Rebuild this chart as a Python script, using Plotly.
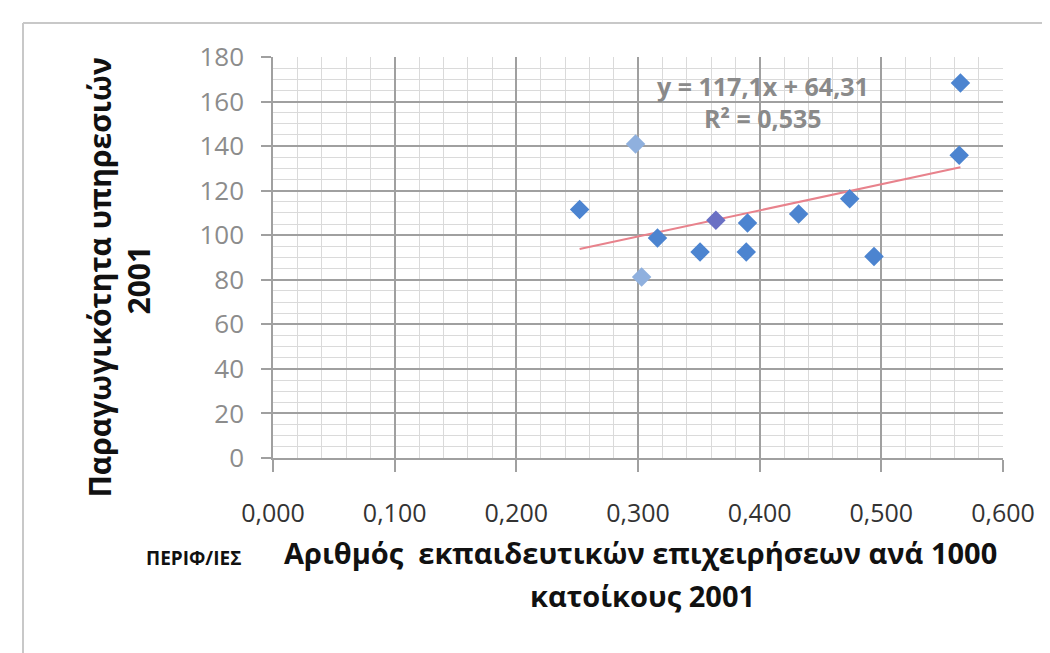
import numpy as np
import plotly.graph_objects as go

# Data
x_vals = [0.252, 0.298, 0.303, 0.316, 0.351, 0.364, 0.390, 0.389, 0.432, 0.474, 0.494, 0.564, 0.565]
y_vals = [111.5, 141.0, 81.3, 98.8, 92.5, 106.7, 105.5, 92.5, 109.5, 116.4, 90.5, 135.9, 168.3]
trend_slope = 117.1
trend_intercept = 64.31
r_squared = "0,535"
x_ticks = [0.0, 0.1, 0.2, 0.3, 0.4, 0.5, 0.6]
y_ticks = [0, 20, 40, 60, 80, 100, 120, 140, 160, 180]

marker_colors = ["#4C84D0"] * len(x_vals)
marker_colors[1] = "#8FB0DE"
marker_colors[2] = "#8FB0DE"
marker_colors[5] = "#6A70C4"

W, H = 1050, 653
L, R, T, B = 265, 1050 - 995, 49, 653 - 450

fig = go.Figure()

tx = np.array([min(x_vals), max(x_vals)])
fig.add_trace(go.Scatter(
    x=tx, y=trend_slope * tx + trend_intercept, mode="lines",
    line=dict(color="#E8828C", width=2), showlegend=False, hoverinfo="skip"))

fig.add_trace(go.Scatter(
    x=x_vals, y=y_vals, mode="markers",
    marker=dict(symbol="diamond", size=15, color=marker_colors,
                line=dict(width=0)),
    showlegend=False))

grid_major = "#A0A0A0"
grid_minor = "#DADADA"

fig.update_xaxes(
    range=[0, 0.6], tickvals=x_ticks, tickformat=".3f",
    showgrid=True, gridcolor=grid_major, gridwidth=1.5,
    minor=dict(dtick=0.02, showgrid=True, gridcolor=grid_minor, gridwidth=1),
    showline=True, linecolor=grid_major, linewidth=1.5,
    ticks="outside", ticklen=12, tickcolor=grid_major, tickwidth=1.5,
    ticklabelstandoff=20,
    tickfont=dict(family="Open Sans", size=25, color="#333333"),
    zeroline=False, fixedrange=True)

fig.update_yaxes(
    range=[0, 180], tickvals=y_ticks,
    showgrid=True, gridcolor=grid_major, gridwidth=1.5,
    minor=dict(dtick=5, showgrid=True, gridcolor=grid_minor, gridwidth=1),
    showline=True, linecolor=grid_major, linewidth=1.5,
    ticks="outside", ticklen=10, tickcolor=grid_major, tickwidth=1.5,
    ticklabelstandoff=12,
    tickfont=dict(family="Open Sans", size=26, color="#8C8C8C"),
    zeroline=False, fixedrange=True)

def px_x(p):
    return (p - L) / (W - L - R)

def px_y(p):
    return (450 - p) / (450 - 49)

eq_font = dict(family="Open Sans", size=25, color="#8A8A8A", weight="bold")
title_font = dict(family="Open Sans", size=29, color="#111111", weight="bold")
ytitle_font = dict(family="Open Sans", size=30, color="#111111", weight="bold")

ann = []
# Equation and R^2
ann.append(dict(x=0.403, y=167, xref="x", yref="y", showarrow=False,
                text=f"y = {str(trend_slope).replace('.', ',')}x + {str(trend_intercept).replace('.', ',')}",
                font=eq_font))
ann.append(dict(x=0.403, y=152.5, xref="x", yref="y", showarrow=False,
                text=f"R² = {r_squared}", font=eq_font))
# X title
ann.append(dict(x=px_x(632), y=px_y(566), xref="paper", yref="paper", showarrow=False,
                text="Αριθμός  εκπαιδευτικών επιχειρήσεων ανά 1000", font=title_font))
ann.append(dict(x=px_x(634), y=px_y(609), xref="paper", yref="paper", showarrow=False,
                text="κατοίκους 2001", font=title_font))
# Y title
ann.append(dict(x=px_x(68), y=px_y(270), xref="paper", yref="paper", showarrow=False,
                textangle=-90, text="Παραγωγικότητα υπηρεσιών", font=ytitle_font))
ann.append(dict(x=px_x(107), y=px_y(272), xref="paper", yref="paper", showarrow=False,
                textangle=-90, text="2001", font=ytitle_font))
# Left label
ann.append(dict(x=px_x(136), y=px_y(565), xref="paper", yref="paper", showarrow=False,
                text="ΠΕΡΙΦ/ΙΕΣ",
                font=dict(family="Open Sans", size=19, color="#111111", weight="bold")))

shapes = [
    dict(type="line", xref="paper", yref="paper", x0=px_x(15), x1=px_x(1045), y0=px_y(15), y1=px_y(15),
         line=dict(color="#C8C8C8", width=2)),
    dict(type="line", xref="paper", yref="paper", x0=px_x(15), x1=px_x(15), y0=px_y(15), y1=px_y(660),
         line=dict(color="#C8C8C8", width=2)),
]

fig.update_layout(
    width=W, height=H,
    margin=dict(l=L, r=R, t=T, b=B, autoexpand=False),
    paper_bgcolor="white", plot_bgcolor="white",
    separators=",.",
    annotations=ann, shapes=shapes,
    showlegend=False,
)

fig.write_html("out.html", config={"displayModeBar": False})
